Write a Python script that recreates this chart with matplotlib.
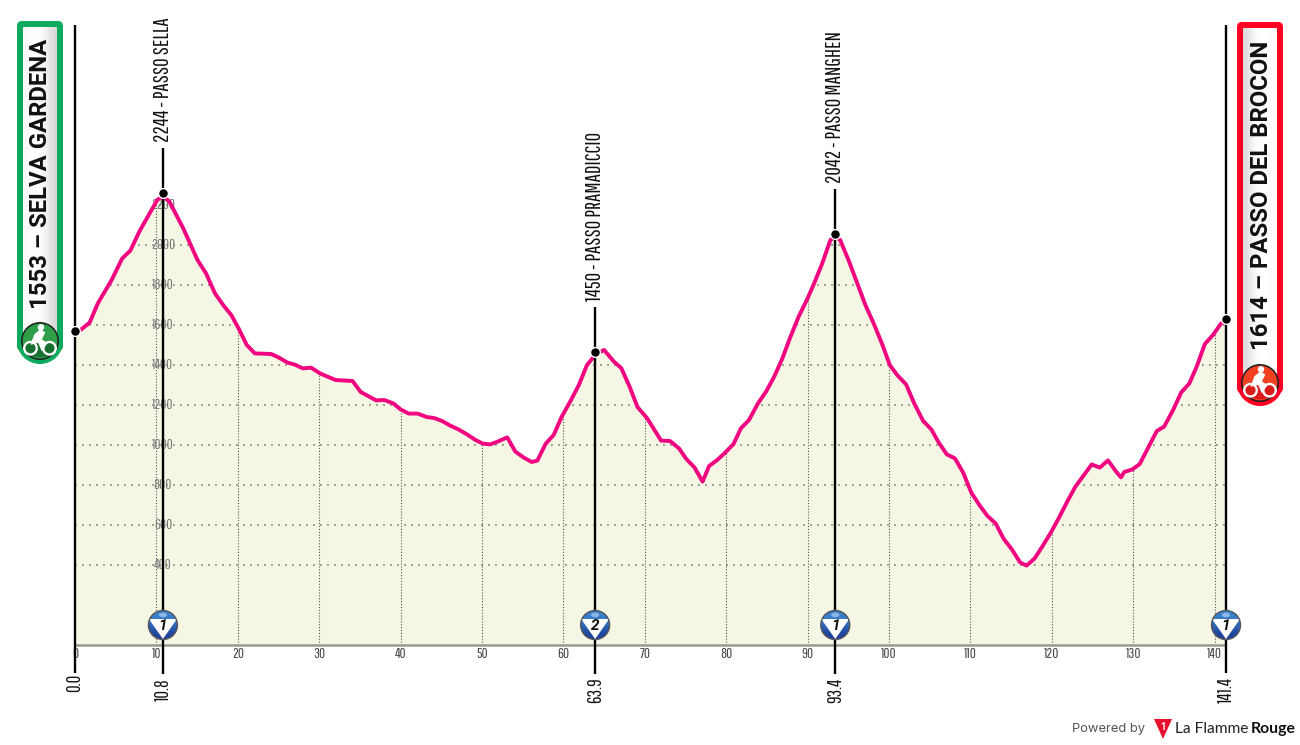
import matplotlib
matplotlib.use("Agg")
import matplotlib.pyplot as plt
import numpy as np
from matplotlib.patches import Circle, Ellipse, FancyBboxPatch, Polygon

# profile
km = [0, 1.8, 2.8, 4.5, 5.8, 6.8, 7.9, 10.1, 10.8, 11.6, 13.3, 15.05, 16.1, 17.2, 18.2, 19.2, 20.1,
      21.1, 22.1, 24.1, 25, 26.1, 27, 28, 29, 30.1, 32, 34.1, 35.1, 37, 38, 39.1, 40, 41, 42.1, 43.2,
      44.1, 45.1, 46.1, 47.1, 48.2, 49.2, 50.1, 51, 51.8, 53.1, 54.1, 55.1, 56.1, 56.8, 57.8, 58.8,
      59.8, 60.9, 61.9, 62.9, 63.9, 64.6, 65, 66.2, 67.1, 68.1, 69.1, 70.3, 72, 73.1, 74.2, 75.1,
      76.1, 77.1, 77.9, 78.9, 79.9, 80.9, 81.8, 82.8, 83.9, 84.9, 85.9, 86.9, 87.9, 88.9, 90, 90.8,
      91.8, 92.8, 93.4, 94, 95.1, 96.1, 97.1, 98.2, 99.2, 100.1, 101, 102.1, 103.1, 104.2, 105.2,
      106.1, 107.1, 108.1, 109.1, 110.1, 111.1, 112.1, 113.1, 114.1, 115.1, 116.1, 116.9, 117.9,
      118.9, 119.9, 120.9, 121.9, 122.9, 123.9, 124.9, 125.9, 126.9, 127.9, 128.5, 128.9, 129.9,
      130.8, 131.8, 132.9, 133.8, 134.9, 135.9, 136.9, 137.8, 138.8, 139.8, 140.8, 141.4]
ele = [1553, 1612, 1708, 1825, 1933, 1972, 2067, 2225, 2244, 2217, 2083, 1925, 1858, 1758, 1700, 1650, 1583,
       1500, 1458, 1455, 1438, 1412, 1402, 1383, 1387, 1358, 1325, 1320, 1265, 1223, 1225, 1208, 1178, 1157, 1157, 1140,
       1135, 1120, 1097, 1078, 1052, 1025, 1007, 1003, 1015, 1038, 967, 938, 915, 922, 1005, 1050,
       1142, 1222, 1300, 1400, 1450, 1467, 1475, 1417, 1385, 1295, 1190, 1133, 1022, 1020, 983, 930,
       888, 817, 895, 925, 963, 1005, 1083, 1125, 1208, 1267, 1342, 1433, 1542, 1642, 1733, 1808,
       1908, 2025, 2042, 2025, 1917, 1808, 1700, 1600, 1500, 1400, 1350, 1303, 1208, 1120, 1078,
       1013, 953, 933, 863, 763, 700, 645, 608, 530, 478, 413, 397, 433,
       497, 563, 638, 717, 792, 847, 903, 887, 923, 867, 838, 865, 878,
       905, 983, 1070, 1092, 1175, 1263, 1308, 1392, 1505, 1550, 1608, 1614]

elev_ticks = [400, 600, 800, 1000, 1200, 1400, 1600, 1800, 2000, 2200]
km_ticks = list(range(0, 150, 10))

climb_km = [10.8, 63.9, 93.4]
climb_ele = [2244, 1450, 2042]
climb_names = ["PASSO SELLA", "PASSO PRAMADICCIO", "PASSO MANGHEN"]

kom_km = [10.8, 63.9, 93.4, 141.4]
kom_cat = ["1", "2", "1", "1"]

dist_km = [0.0, 10.8, 63.9, 93.4, 141.4]
start_name = "1553 – SELVA GARDENA"
finish_name = "1614 – PASSO DEL BROCON"
start_ele = 1553
finish_ele = 1614

narrow = ["Pathway Gothic One", "Roboto Condensed", "Roboto", "DejaVu Sans"]
PINK = "#F0047F"
FILL = "#F5F6E3"

fig = plt.figure(figsize=(13, 7.45), dpi=100)
# main axes fills the whole canvas, 8.14 px per km and 0.2 px per metre
ax = fig.add_axes([0, 0, 1, 1])
ax.set_xlim(-75 / 8.14, (1300 - 75) / 8.14)
ax.set_ylim(-100 / 0.2, 645 / 0.2)
ax.axis("off")

poly = ax.fill_between(km, ele, 0, color=FILL, lw=0, zorder=1)
clip = poly.get_paths()[0]

# grid only shows inside the profile
for v in elev_ticks:
    ln, = ax.plot([0, 141.4], [v, v], color="#A0A090", lw=1.4, ls=(0, (1, 2.6)), zorder=2)
    ln.set_clip_path(clip, ax.transData)
for k in km_ticks[1:]:
    ln, = ax.plot([k, k], [0, 3000], color="#555555", lw=0.8, ls=(0, (1, 1.6)), zorder=2)
    ln.set_clip_path(clip, ax.transData)

ax.plot([0, 141.4], [0, 0], color="#9A9A8A", lw=1.8, zorder=3, solid_capstyle="butt")

for v in elev_ticks:
    ax.text(10.8, v, str(v), color="#77777A", fontsize=10.5, family=narrow, ha="center", va="center", zorder=3)
for k in km_ticks:
    ax.text(k, -45, str(k), color="#444444", fontsize=10.5, family=narrow, ha="center", va="center", zorder=3)

ax.plot(km, ele, color=PINK, lw=2.8, zorder=4, solid_joinstyle="round")

# dots sit about 3 px above the line in the original
dot_off = 15
ax.vlines(0, -140, 3100, color="black", lw=1.7, zorder=5)
ax.vlines(141.4, -140, 3100, color="black", lw=1.7, zorder=5)
for k, e, n in zip(climb_km, climb_ele, climb_names):
    top = e + dot_off + 45 / 0.2
    ax.vlines(k, -145, top, color="black", lw=1.7, zorder=5)
    ax.text(k, top + 30, f"{e} - {n}", rotation=90, ha="center", va="bottom", fontsize=15,
            family=narrow, color="#111111", zorder=6)

ax.scatter([0] + climb_km + [141.4], [start_ele + dot_off] + [e + dot_off for e in climb_ele] + [finish_ele + dot_off],
           s=50, color="black", edgecolor="white", linewidth=1.0, zorder=7)

for d in dist_km:
    off = -190 if d == 0 else -225
    ax.text(d, off, f"{d:.1f}", rotation=90, ha="center", va="center", fontsize=13.5,
            family=narrow, color="#111111", zorder=6)

# overlay in reference pixels for the badges and logo
ov = fig.add_axes([0, 0, 1, 1], zorder=10)
ov.patch.set_alpha(0)
ov.axis("off")


def grad_rect(x0, x1, y0, y1, cols, clip_patch):
    img = ov.imshow(np.array(cols), extent=(x0, x1, y1, y0), aspect="auto", cmap="gray", vmin=0, vmax=1,
                    interpolation="bicubic", zorder=3)
    img.set_clip_path(clip_patch)


def rider(cx, cy, r, col_top, col_bot, wheel):
    ov.add_patch(Circle((cx, cy), r, fc="#222222", ec="none", zorder=4))
    inner = Circle((cx, cy), r - 1.6, fc=col_top, ec="none", zorder=4.1)
    ov.add_patch(inner)
    low = Ellipse((cx, cy + r * 0.42), r * 1.7, r * 0.85, fc=col_bot, ec="none", zorder=4.2)
    ov.add_patch(low)
    for dx in (-0.5, 0.5):
        ov.add_patch(Circle((cx + dx * r, cy + 0.38 * r), 0.33 * r, fc="none", ec=wheel, lw=1.7, zorder=4.4))
    # torso and legs
    ov.add_patch(Polygon([(cx - 0.5 * r, cy + 0.2 * r), (cx - 0.3 * r, cy - 0.35 * r), (cx + 0.02 * r, cy - 0.62 * r),
                          (cx + 0.28 * r, cy - 0.45 * r), (cx + 0.1 * r, cy - 0.08 * r), (cx + 0.4 * r, cy + 0.1 * r),
                          (cx + 0.1 * r, cy + 0.55 * r), (cx - 0.1 * r, cy + 0.1 * r)], fc=wheel, ec="none", zorder=4.3))
    ov.add_patch(Circle((cx + 0.05 * r, cy - 0.72 * r), 0.17 * r, fc=wheel, ec="none", zorder=4.3))


def badge(x0, x1, y0, y1, ring, cols, cy, icon_top, icon_bot, name, text_y):
    cx = (x0 + x1) / 2
    rad = (x1 - x0) / 2
    ov.add_patch(FancyBboxPatch((x0 + 5, y0 + 5), x1 - x0 - 10, cy - y0, boxstyle="round,pad=5", fc=ring, ec="none", zorder=1))
    ov.add_patch(Circle((cx, cy), rad, fc=ring, ec="none", zorder=1))
    inner = FancyBboxPatch((x0 + 7.5, y0 + 7.5), x1 - x0 - 15, cy - y0 - 7.5, boxstyle="round,pad=1.5", fc="white", ec="none", zorder=2)
    ov.add_patch(inner)
    grad_rect(x0 + 6, x1 - 6, y0 + 6, cy + 2, cols, inner)
    rider(cx, cy, 19, icon_top, icon_bot, "white")
    ov.text(cx + 1, text_y, name, rotation=90, ha="center", va="center", fontsize=17.2, fontweight="bold",
            family="Roboto", color="#111111", zorder=5)


badge(17, 63, 21, 364, "#0BAA5C", [[0.97, 1.0, 0.99, 0.95, 0.84]], 341, "#2E9E48", "#16702E", start_name, 174)
badge(1237, 1283, 22, 407, "#FF0022", [[0.86, 0.96, 1.0, 1.0, 0.98]], 383, "#F04020", "#D81C1C", finish_name, 195)

# climb category signs
kom_map = matplotlib.colors.LinearSegmentedColormap.from_list("kom", ["#3B86CE", "#1E3F98"])
for k, cat in zip(kom_km, kom_cat):
    px, py = ax.transData.transform((k, 100))
    py = 745 - py
    r = 14.5
    disc = Circle((px, py), r, fc="#1F4FA0", ec="none", zorder=3)
    ov.add_patch(disc)
    img = ov.imshow(np.array([[0.0], [0.35], [1.0]]), extent=(px - r, px + r, py + r, py - r), aspect="auto",
                    cmap=kom_map, interpolation="bicubic", zorder=3.1)
    img.set_clip_path(disc)
    tri = Polygon([(px - 14, py - 6), (px + 14, py - 6), (px, py + 14)], fc="white", ec="none", zorder=3.3)
    ov.add_patch(tri)
    tri.set_clip_path(disc)
    ov.add_patch(Circle((px, py), r, fc="none", ec="#55555A", lw=1, zorder=3.4))
    ov.add_patch(Ellipse((px, py - 10), 8, 4.5, fc="#8DB8E6", ec="none", zorder=3.4))
    ov.text(px, py + 1.5, cat, ha="center", va="center", fontsize=11, fontweight="bold", style="italic",
            family="Roboto", color="#111111", zorder=3.5)

# footer logo
ov.text(1072, 729, "Powered by", ha="left", va="center", fontsize=9.3, family="Inter", color="#555555")
ov.add_patch(Polygon([(1154, 719), (1172, 719), (1163, 739)], fc="#E8112D", ec="none"))
ov.text(1163, 726.5, "1", ha="center", va="center", fontsize=7, fontweight="bold", family="Roboto", color="white")
ov.text(1175, 729, "La Flamme", ha="left", va="center", fontsize=11.2, family="Lato", color="#222222")
ov.text(1251, 729, "Rouge", ha="left", va="center", fontsize=11.4, fontweight="bold", family="Lato", color="#111111")

ov.set_xlim(0, 1300)
ov.set_ylim(745, 0)

fig.savefig("out.png", dpi=100)
